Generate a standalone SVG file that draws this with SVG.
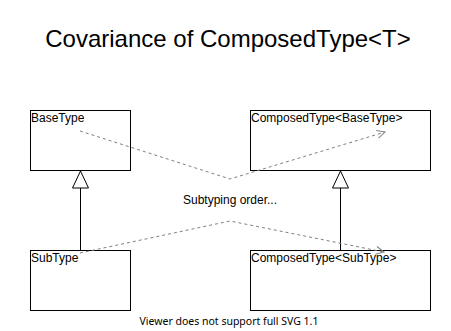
<svg xmlns="http://www.w3.org/2000/svg" width="451" height="331" viewBox="0 0 451 331">
<style>
.box{fill:#fff;stroke:#000;stroke-width:1}
.lbl{font-family:"Liberation Sans",Arial,sans-serif;font-size:12px;fill:#000}
.dash{fill:none;stroke:#808080;stroke-width:1;stroke-dasharray:3 3}
.inh{fill:none;stroke:#000;stroke-width:1}
.tri{fill:#fff;stroke:#000;stroke-width:1}
</style>
<defs>
<marker id="open" viewBox="0 0 10 10" refX="9" refY="5" markerWidth="10" markerHeight="10" markerUnits="userSpaceOnUse" orient="auto">
<path d="M1,1 L9,5 L1,9" fill="none" stroke="#808080" stroke-width="1"/>
</marker>
</defs>
<rect width="451" height="331" fill="#fff"/>
<text x="228" y="47" text-anchor="middle" font-family="'Liberation Sans',Arial,sans-serif" font-size="24" fill="#000">Covariance of ComposedType&lt;T&gt;</text>
<g id="BaseType">
<rect class="box" x="30.5" y="110.5" width="100" height="60"/>
<text class="lbl" x="31" y="122">BaseType</text>
</g>
<g id="ComposedBase">
<rect class="box" x="250.5" y="110.5" width="180" height="60"/>
<text class="lbl" x="251" y="122">ComposedType&lt;BaseType&gt;</text>
</g>
<g id="SubType">
<rect class="box" x="30.5" y="250.5" width="100" height="60"/>
<text class="lbl" x="31" y="262">SubType</text>
</g>
<g id="ComposedSub">
<rect class="box" x="250.5" y="250.5" width="180" height="60"/>
<text class="lbl" x="251" y="262">ComposedType&lt;SubType&gt;</text>
</g>
<g id="connectors">
<path class="inh" d="M80.5,250 V188"/>
<path class="tri" d="M80.5,171 L72.5,188 H88.5 Z"/>
<path class="inh" d="M340.5,250 V188"/>
<path class="tri" d="M340.5,171 L332.5,188 H348.5 Z"/>
<path class="dash" d="M80,131 L230,179 L385,132" marker-end="url(#open)"/>
<path class="dash" d="M80,253 L230,221 L384,252" marker-end="url(#open)"/>
</g>
<text class="lbl" x="230" y="204" text-anchor="middle">Subtyping order...</text>
<text x="229" y="325" text-anchor="middle" font-family="'Noto Sans',sans-serif" font-size="10.5" fill="#000">Viewer does not support full SVG 1.1</text>
</svg>
